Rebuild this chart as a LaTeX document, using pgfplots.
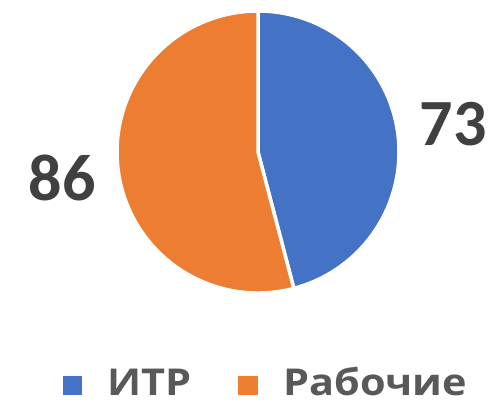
\documentclass[border=0pt]{standalone}
\usepackage{pgfplots}
\pgfplotsset{compat=1.18}
\usepackage{fontspec}
\setmainfont{Carlito}
\newfontfamily\legfont{Open Sans}
\definecolor{cblue}{HTML}{4472C4}
\definecolor{corange}{HTML}{ED7D31}
\definecolor{numtxt}{HTML}{404040}
\definecolor{legtxt}{HTML}{595959}
\begin{document}
\begin{tikzpicture}
\def\vA{73}% ИТР
\def\vB{86}% Рабочие
\pgfmathsetmacro\angA{\vA/(\vA+\vB)*360}
\pgfmathsetmacro\endA{90-\angA}
\begin{axis}[name=ax,
  width=497bp, height=405bp, scale only axis,
  xmin=0, xmax=497, ymin=0, ymax=405,
  axis lines=none, clip=false,
]
% blue slice (clockwise from top)
\fill[cblue, draw=white, line width=3.5bp, line join=round]
  (axis cs:258,253) -- ++(90:141bp) arc[start angle=90, end angle=\endA, radius=141bp] -- cycle;
% orange slice
\fill[corange, draw=white, line width=3.5bp, line join=round]
  (axis cs:258,253) -- ++(\endA:141bp) arc[start angle=\endA, end angle=-270, radius=141bp] -- cycle;
\node[font=\bfseries\fontsize{66bp}{66bp}\selectfont, text=numtxt, inner sep=0pt, anchor=center] at (axis cs:453,281) {\vA};
\node[font=\bfseries\fontsize{66bp}{66bp}\selectfont, text=numtxt, inner sep=0pt, anchor=center] at (axis cs:62,227) {\vB};
% legend
\fill[cblue] (axis cs:63,10) rectangle (axis cs:82,29);
\node[font=\legfont\bfseries\fontsize{37bp}{37bp}\selectfont, text=legtxt, inner sep=0pt, anchor=base west, xscale=1.12] at (axis cs:107,10) {ИТР};
\fill[corange] (axis cs:238,10) rectangle (axis cs:258,29);
\node[font=\legfont\bfseries\fontsize{37bp}{37bp}\selectfont, text=legtxt, inner sep=0pt, anchor=base west, xscale=1.12] at (axis cs:283,10) {Рабочие};
\end{axis}
\pgfresetboundingbox
\path (ax.south west) rectangle (ax.north east);
\end{tikzpicture}
\end{document}
